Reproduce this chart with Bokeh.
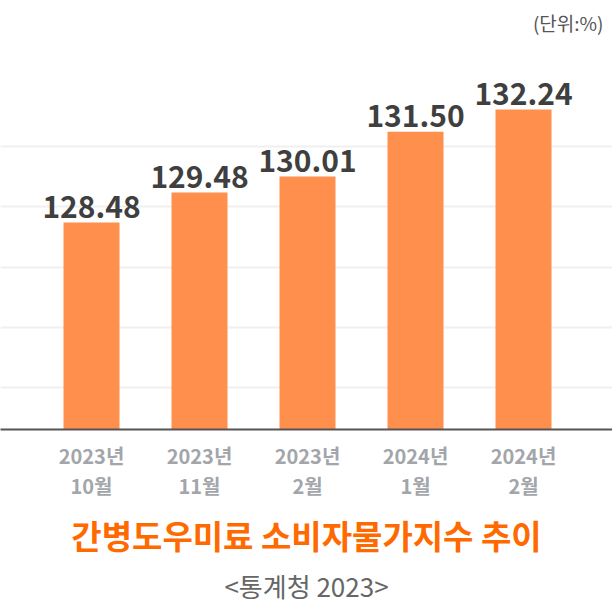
from bokeh.plotting import figure
from bokeh.models import ColumnDataSource, Range1d, FixedTicker, Title, Label
from bokeh.core.properties import value
from bokeh.embed import file_html
from bokeh.resources import INLINE

# ---- data ----
years = ["2023년", "2023년", "2023년", "2024년", "2024년"]
months = ["10월", "11월", "2월", "1월", "2월"]
index_values = [128.48, 129.48, 130.01, 131.50, 132.24]
grid_values = [123, 125, 127, 129, 131]
title_text = "간병도우미료 소비자물가지수 추이"
source_text = "<통계청 2023>"
unit_text = "(단위:%)"

FONT = "Noto Sans CJK KR"
W, H = 612, 604
FRAME_H = 428
PX_PER_X = 108.0
FIRST_CENTER = 91.0
PX_PER_Y = 30.0
Y0 = 121.6

xs = list(range(len(index_values)))
src = ColumnDataSource(dict(
    x=xs,
    top=index_values,
    label=["%.2f" % v for v in index_values],
))

x_start = -FIRST_CENTER / PX_PER_X
x_end = (W - FIRST_CENTER) / PX_PER_X
y_end = Y0 + FRAME_H / PX_PER_Y

p = figure(width=W, height=H, output_backend="svg", toolbar_location=None,
           x_range=Range1d(x_start, x_end), y_range=Range1d(Y0, y_end),
           min_border_left=0, min_border_right=0, min_border_top=0,
           min_border_bottom=0)
p.outline_line_color = None
p.background_fill_color = "white"
p.border_fill_color = "white"

p.vbar(x="x", top="top", bottom=Y0, width=56 / PX_PER_X, source=src,
       fill_color="#FF8F4C", line_color=None)

p.text(x="x", y="top", text="label", source=src, text_align="center",
       text_baseline="bottom", y_offset=-5, text_font=value(FONT),
       text_font_style="bold", text_font_size="30px", text_color="#3f3f3f")

# axes
p.yaxis.visible = False
p.xgrid.visible = False
p.ygrid.ticker = FixedTicker(ticks=grid_values)
p.ygrid.grid_line_color = "#f0f0f0"
p.ygrid.grid_line_width = 2

ax = p.xaxis[0]
ax.ticker = FixedTicker(ticks=xs)
ax.major_label_overrides = {i: "%s\n%s" % (years[i], months[i]) for i in xs}
ax.axis_line_color = "#555555"
ax.axis_line_width = 2
ax.major_tick_line_color = None
ax.minor_tick_line_color = None
ax.major_label_standoff = 5
ax.major_label_text_font = FONT
ax.major_label_text_font_style = "bold"
ax.major_label_text_font_size = "20px"
ax.major_label_text_color = "#a2a5aa"
ax.major_label_text_line_height = 1.05

t1 = Title(text=title_text, align="center", text_font=FONT,
           text_font_style="bold", text_font_size="33px",
           text_color="#ff6a00", standoff=12)
p.add_layout(t1, "below")
t2 = Title(text=source_text, align="center", text_font=FONT,
           text_font_style="normal", text_font_size="26px",
           text_color="#666666", standoff=1)
p.add_layout(t2, "below")

unit = Label(x=(603 - FIRST_CENTER) / PX_PER_X, y=Y0 + (428 - 22) / PX_PER_Y,
             text=unit_text, text_align="right", text_baseline="middle",
             text_font=FONT, text_font_size="19px", text_color="#555555")
p.add_layout(unit)

open("out.html", "w").write(file_html(p, INLINE))
